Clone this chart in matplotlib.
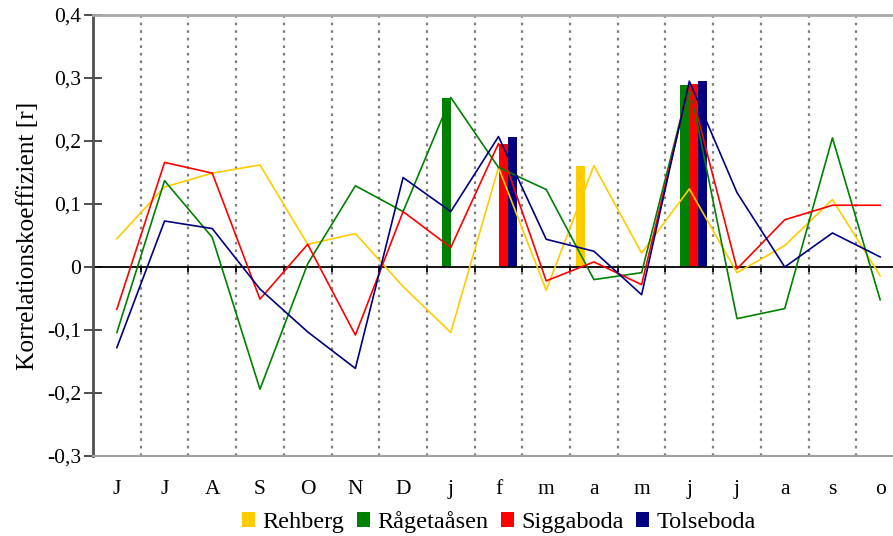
import numpy as np
import matplotlib
matplotlib.use("Agg")
import matplotlib.pyplot as plt
from matplotlib.patches import Patch

categories = ["J", "J", "A", "S", "O", "N", "D", "j", "f", "m", "a", "m", "j", "j", "a", "s", "o"]
series_names = ["Rehberg", "Rågetaåsen", "Siggaboda", "Tolseboda"]

rehberg = [0.045, 0.127, 0.149, 0.162, 0.036, 0.053, -0.031, -0.104, 0.158, -0.037,
           0.161, 0.022, 0.124, -0.009, 0.034, 0.107, -0.014]
ragetaasen = [-0.104, 0.137, 0.047, -0.194, 0.005, 0.129, 0.088, 0.269, 0.158, 0.123,
              -0.020, -0.009, 0.290, -0.082, -0.066, 0.205, -0.052]
siggaboda = [-0.067, 0.166, 0.149, -0.051, 0.036, -0.108, 0.088, 0.031, 0.196, -0.022,
             0.008, -0.028, 0.290, -0.003, 0.075, 0.098, 0.098]
tolseboda = [-0.128, 0.073, 0.061, -0.035, -0.103, -0.161, 0.142, 0.088, 0.207, 0.044,
             0.025, -0.044, 0.295, 0.118, 0.000, 0.054, 0.016]

nan = np.nan
# significant correlations shown as bars
rehberg_bars = [nan, nan, nan, nan, nan, nan, nan, nan, nan, nan, 0.161, nan, nan, nan, nan, nan, nan]
ragetaasen_bars = [nan, nan, nan, nan, nan, nan, nan, 0.269, nan, nan, nan, nan, 0.289, nan, nan, nan, nan]
siggaboda_bars = [nan, nan, nan, nan, nan, nan, nan, nan, 0.196, nan, nan, nan, 0.290, nan, nan, nan, nan]
tolseboda_bars = [nan, nan, nan, nan, nan, nan, nan, nan, 0.207, nan, nan, nan, 0.295, nan, nan, nan, nan]

y_ticks = [-0.3, -0.2, -0.1, 0.0, 0.1, 0.2, 0.3, 0.4]
y_ticklabels = ["-0,3", "-0,2", "-0,1", "0", "0,1", "0,2", "0,3", "0,4"]

colors = ["#FFCC00", "#008000", "#FF0000", "#000080"]

plt.rcParams['font.family'] = ['Liberation Serif', 'DejaVu Serif']
FS = 15.5

W, H = 893, 536
fig = plt.figure(figsize=(W / 100, H / 100), dpi=100)
ax = fig.add_axes([93 / W, (536 - 456) / H, (904 - 93) / W, (456 - 15) / H])

x = np.arange(len(categories))
bw = 0.19
lines = [rehberg, ragetaasen, siggaboda, tolseboda]
bars = [rehberg_bars, ragetaasen_bars, siggaboda_bars, tolseboda_bars]
offsets = [-1.5, -0.5, 0.5, 1.5]

for vals, off, c in zip(bars, offsets, colors):
    ax.bar(x + off * bw, vals, width=bw, color=c, zorder=2, linewidth=0)

for vals, c in zip(lines, colors):
    ax.plot(x, vals, color=c, lw=1.2, zorder=3)

ax.set_xlim(-0.5, len(categories) - 0.5)
ax.set_ylim(-0.3, 0.4)

# boundaries grid
bounds = np.arange(0.5, len(categories) - 0.5, 1.0)
ax.set_xticks(bounds, minor=True)
ax.grid(axis='x', which='minor', color='#7f7f7f', linestyle=(0, (1.2, 2.2)), lw=1.6, zorder=1)
ax.tick_params(axis='x', which='minor', length=0)
ax.set_xticks(x)
ax.set_xticklabels(categories, fontsize=FS)
ax.tick_params(axis='x', which='major', length=0, pad=17)

ax.axhline(0, color='black', lw=1.3, zorder=2.5)
ax.vlines(bounds, -0.008, 0, color='black', lw=1.3, zorder=2.5)

ax.set_yticks(y_ticks)
ax.set_yticklabels(y_ticklabels, fontsize=FS)
ax.tick_params(axis='y', direction='inout', length=13, width=1.2, color='#303030', pad=2)

ax.spines['right'].set_visible(False)
ax.spines['top'].set_color('#a8a8a8')
ax.spines['top'].set_linewidth(2)
ax.spines['bottom'].set_color('#a0a0a0')
ax.spines['bottom'].set_linewidth(1.5)
ax.spines['left'].set_color('#505050')
ax.spines['left'].set_linewidth(2)

ax.set_ylabel("Korrelationskoeffizient [r]", fontsize=18.3, labelpad=6)

handles = [Patch(facecolor=c, edgecolor='none') for c in colors]
fig.legend(handles, series_names, loc='center', bbox_to_anchor=(499 / W, 1 - 522 / H),
           ncol=4, frameon=False, fontsize=17.5, handlelength=0.55, handleheight=0.55,
           handletextpad=0.3, columnspacing=0.5, borderpad=0.2)

fig.savefig("out.png", dpi=100)
